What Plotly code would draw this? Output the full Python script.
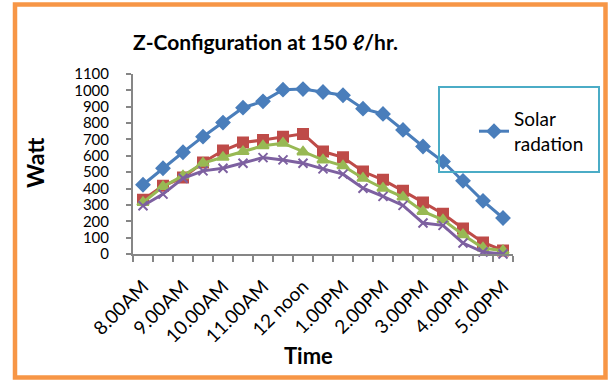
import plotly.graph_objects as go

times = ["8.00AM", "8.30AM", "9.00AM", "9.30AM", "10.00AM", "10.30AM", "11.00AM", "11.30AM",
         "12 noon", "12.30PM", "1.00PM", "1.30PM", "2.00PM", "2.30PM", "3.00PM", "3.30PM",
         "4.00PM", "4.30PM", "5.00PM"]
tick_labels = ["8.00AM", "9.00AM", "10.00AM", "11.00AM", "12 noon", "1.00PM", "2.00PM",
               "3.00PM", "4.00PM", "5.00PM"]

solar = [423, 524, 622, 717, 803, 894, 933, 1004, 1008, 990, 970, 888, 856, 758, 657, 565, 447, 325, 220]
series2 = [331, 417, 467, 559, 632, 681, 697, 717, 734, 626, 591, 504, 453, 386, 315, 246, 156, 71, 22]
series3 = [315, 412, 478, 555, 591, 626, 661, 677, 624, 575, 539, 463, 402, 348, 260, 209, 118, 37, 20]
series4 = [295, 366, 463, 508, 524, 555, 589, 575, 555, 520, 488, 402, 352, 297, 189, 175, 67, 12, 0]

x = list(range(len(times)))
FONT = "Lato, 'Open Sans', sans-serif"

fig = go.Figure()
specs = [
    ("Solar<br>radation", solar, "#4a7ebb", "diamond", 10, True),
    ("Series 2", series2, "#be4b48", "square", 10, False),
    ("Series 3", series3, "#98b954", "triangle-up", 10, False),
    ("Series 4", series4, "#7d60a0", "x-thin", 9, False),
]
for name, vals, col, sym, sz, show in specs:
    fig.add_trace(go.Scatter(
        x=x, y=vals, name=name, mode="lines+markers", showlegend=show,
        line=dict(color=col, width=3),
        marker=dict(symbol=sym, size=sz, color=col, line=dict(color=col, width=2)),
        cliponaxis=False, hovertext=times,
    ))

L, R, T, B = 133, 513, 74, 254
W, H = 608, 380

def px(xp):
    return (xp - L) / (R - L)

def py(yp):
    return (B - yp) / (B - T)

fig.update_layout(
    width=W, height=H,
    margin=dict(l=L, r=W - R, t=T, b=H - B, pad=0),
    paper_bgcolor="white", plot_bgcolor="white",
    font=dict(family=FONT, color="black"),
    showlegend=True,
    legend=dict(x=px(474), y=py(100), xanchor="left", yanchor="top",
                bgcolor="rgba(0,0,0,0)", borderwidth=0,
                font=dict(size=19, family=FONT, color="black")),
    xaxis=dict(
        range=[-0.5, 18.5], showgrid=False, zeroline=False,
        showline=True, linecolor="#868686", linewidth=2,
        tickmode="array", tickvals=list(range(0, 19, 2)), ticktext=tick_labels,
        ticks="", tickangle=-45, tickfont=dict(size=19, family=FONT),
        ticklabelstandoff=12,
        minor=dict(tickmode="linear", tick0=-0.5, dtick=1, ticks="outside",
                   ticklen=6, tickcolor="#868686", tickwidth=2, showgrid=False),
    ),
    yaxis=dict(
        range=[0, 1100], dtick=100, showgrid=False, zeroline=False,
        showline=True, linecolor="#868686", linewidth=2,
        ticks="outside", ticklen=5, tickcolor="#868686", tickwidth=2,
        tickfont=dict(size=15, family=FONT), ticklabelstandoff=14,
    ),
    shapes=[
        dict(type="rect", xref="paper", yref="paper",
             x0=px(15), x1=px(605.5), y0=py(377.5), y1=py(4.5),
             line=dict(color="#f79646", width=4.5), fillcolor="rgba(0,0,0,0)", layer="below"),
        dict(type="rect", xref="paper", yref="paper",
             x0=px(439), x1=px(599), y0=py(172), y1=py(87),
             line=dict(color="#4bacc6", width=2), fillcolor="rgba(0,0,0,0)"),
    ],
    annotations=[
        dict(text="<b>Z-Configuration at 150 ℓ/hr.</b>", xref="paper", yref="paper",
             x=px(265), y=py(42), xanchor="center", yanchor="middle", showarrow=False,
             font=dict(size=21, family=FONT)),
        dict(text="<b>Watt</b>", xref="paper", yref="paper", textangle=-90,
             x=px(35), y=py(162), xanchor="center", yanchor="middle", showarrow=False,
             font=dict(size=23, family=FONT)),
        dict(text="<b>Time</b>", xref="paper", yref="paper",
             x=px(308), y=py(355), xanchor="center", yanchor="middle", showarrow=False,
             font=dict(size=22, family=FONT)),
    ],
)

fig.write_html("out.html")
